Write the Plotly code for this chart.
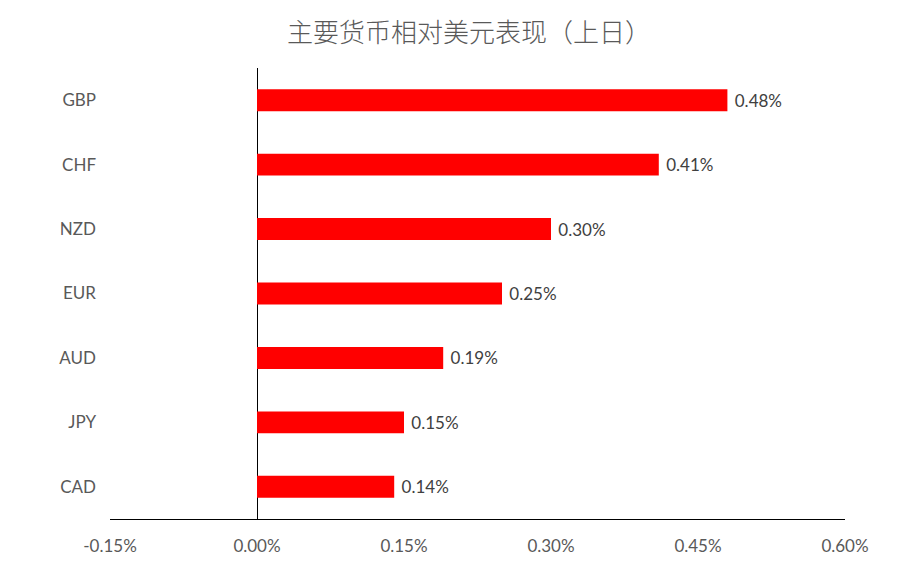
import plotly.graph_objects as go

# 主要货币相对美元表现（上日）, values in %
currencies = ['GBP', 'CHF', 'NZD', 'EUR', 'AUD', 'JPY', 'CAD']
change_pct = [0.48, 0.41, 0.30, 0.25, 0.19, 0.15, 0.14]
x_ticks = [-0.15, 0.00, 0.15, 0.30, 0.45, 0.60]

LATIN = 'Lato, "Noto Sans", sans-serif'
CJK = '"Noto Sans CJK SC", sans-serif'

fig = go.Figure()
fig.add_trace(go.Bar(
    x=change_pct,
    y=currencies,
    orientation='h',
    marker=dict(color='#ff0000', line=dict(width=0)),
    width=0.34,
    texttemplate=' %{x:.2f}%',
    textposition='outside',
    textfont=dict(family=LATIN, size=17, color='#404040'),
    cliponaxis=False,
))

fig.update_layout(
    width=922, height=577,
    paper_bgcolor='white', plot_bgcolor='white',
    margin=dict(l=102, r=85, t=60, b=66),
    showlegend=False,
    title=dict(text='主要货币相对美元表现（上日）', x=0.5, xanchor='center',
               y=0.957, yanchor='middle',
               font=dict(family=CJK, size=26, color='#595959', weight=300)),
)

fig.update_xaxes(
    range=[-0.15, 0.60],
    tickvals=x_ticks,
    ticktext=[f'{v:.2f}%' for v in x_ticks],
    showgrid=False,
    showline=True, linecolor='black', linewidth=1,
    zeroline=True, zerolinecolor='black', zerolinewidth=1,
    ticks='', ticklabelstandoff=12,
    tickfont=dict(family=LATIN, size=17, color='#595959'),
)

fig.update_yaxes(
    categoryorder='array', categoryarray=currencies,
    autorange='reversed',
    showgrid=False, showline=False, zeroline=False,
    ticks='', ticklabelstandoff=13,
    tickfont=dict(family=LATIN, size=17, color='#595959'),
)

fig.write_html("out.html")
